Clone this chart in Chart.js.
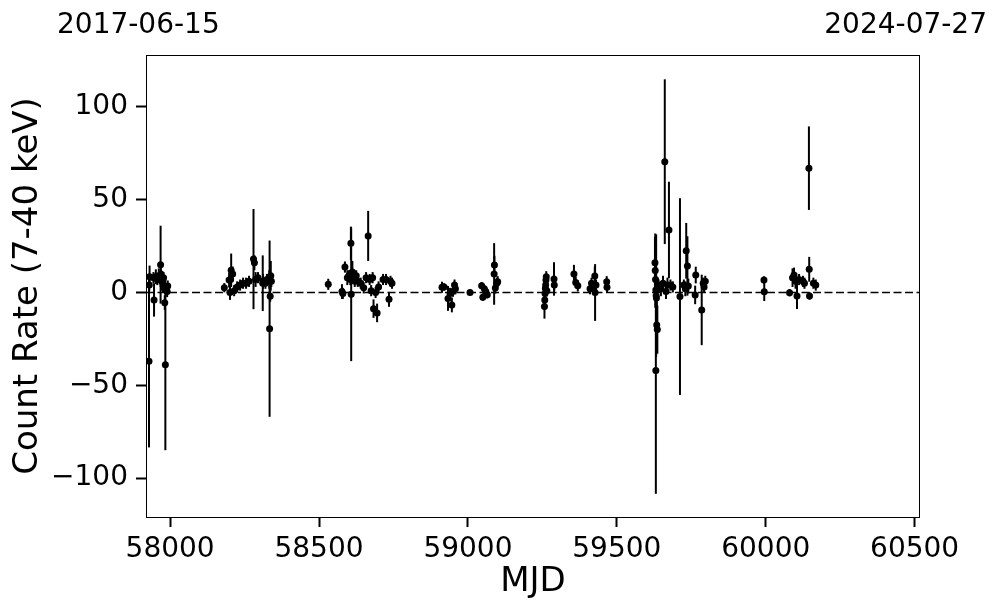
<!DOCTYPE html>
<html>
<head>
<meta charset="utf-8">
<script src="https://cdn.jsdelivr.net/npm/chart.js@4"></script>
<style>
  html, body { margin: 0; padding: 0; background: #fff; }
  #wrap { width: 997px; height: 613px; }
</style>
</head>
<body>
<div id="wrap"><canvas id="lc"></canvas></div>
<script>
// light curve values
const mjd = [
  57929, 57930, 57931, 57946, 57944, 57952, 57957, 57962, 57968, 57969, 57972, 57976, 57982, 57984, 57986, 57990, 57978, 57992,
  58182, 58198, 58205, 58210, 58203, 58201, 58215, 58225, 58235, 58245, 58255, 58265, 58280, 58283, 58287, 58295, 58311, 58312, 58320, 58334, 58336, 58333, 58338, 58340, 58325,
  58531,
  58577, 58580, 58587, 58595, 58600, 58605, 58607, 58608, 58612, 58615, 58620, 58625, 58630, 58640, 58650, 58658, 58665, 58670, 58675, 58680, 58683, 58690, 58695, 58700, 58715, 58725, 58735, 58740, 58745,
  58913, 58920, 58933, 58940, 58946, 58950, 58955, 58958, 59007, 59046, 59050, 59055, 59065, 59060, 59088, 59089, 59092, 59100, 59097,
  59257, 59258, 59259, 59260, 59261, 59262, 59263, 59265, 59289, 59290, 59356, 59362, 59369, 59410, 59415, 59420, 59426, 59427, 59430, 59466, 59467,
  59628, 59629, 59630, 59631, 59632, 59633, 59634, 59636, 59631, 59640, 59648, 59655, 59661, 59665, 59670, 59675, 59680, 59688, 59712, 59725, 59730, 59733, 59737, 59740, 59765, 59763, 59785, 59790, 59793, 59797,
  59994, 59995, 60080, 60090, 60095, 60100, 60105, 60112, 60125, 60130, 60145, 60146, 60147, 60160, 60168
];
const rate = [
  -37, 4, 8.5, -4, 8, 8.5, 7, 9, 15, 10, 6, 4, -5.5, -39, 2, 0.5, 8, 3.5,
  2.6, 6.7, 12, 10, 7, 0, 1, 3, 4, 5, 5, 6, 18, 16, 7, 8, 5, 6, 5, -19.5, -2, 7, 9, 6, 7,
  4.4,
  0.5, -0.5, 13.7, 8, 9, 7, 26.5, -1, 11, 8, 6, 9, 6, 5, 2.5, 8, 30.5, 7, 1, 8, -8.7, 0, -11, 3, 7, 7, -3.7, 6, 5,
  2.8, 3, -3.2, -0.5, -6.7, 0.7, 4, 2, 0, 3.7, -2.5, 2, -1.2, 0.5, 10, 14.8, 2.4, 5.8, 5,
  -7.6, -4, -0.5, 2.2, 4, 6.7, 8.5, 1, 7.3, 4, 10, 5.4, 3.6, 2, 5, 3, 8.9, 0, 4, 5.8, 2.8,
  16, 11.8, 7, 1.3, -1.7, -3, -17.5, -20, -42, 4, 2, 5, 70.5, 0.5, 4, 33.7, 4, 3, -2.2, 4, 2, 22.5, 14.3, 3.5, 9.4, -1.3, -9.4, 5, 3, 6,
  6.7, 0.4, -0.1, 8, 9.4, 6, -1.9, 7, 6, 5, 67, 12.5, -1.9, 5, 4
];
const rateErr = [
  46.5, 3, 6, 9, 3, 4, 3, 4, 21, 5, 5, 4, 4, 46, 3, 3, 3, 3,
  2.5, 4, 9, 4, 4, 4, 3, 3, 3, 3, 3, 3, 27, 4, 4, 3, 15, 4, 3, 47.5, 3, 5, 8, 3, 3,
  3,
  4, 3, 3, 4, 3, 3, 9, 36, 6, 3, 3, 3, 3, 3, 3, 3, 13.5, 3, 3, 3, 5, 3, 5, 3, 3, 3, 4, 3, 3,
  3, 2, 6.7, 3, 4, 3, 3, 3, 1.5, 2, 2, 2, 2, 2, 16.6, 5, 3, 3, 3,
  6.5, 4, 3, 3, 3, 3, 3, 3, 9, 3, 4.9, 3, 3, 3, 3, 3, 5, 15.3, 3, 3, 3,
  14, 20, 5, 4, 33, 5, 15, 13, 66.5, 3, 4, 4, 44.4, 4, 4, 26, 3, 3, 53, 3, 4, 15, 16, 4, 4.5, 5, 19, 3, 3, 3,
  2, 5, 2, 5, 4, 4, 7, 3, 3, 3, 22.5, 6.7, 2, 3, 3
];

const xRange = [57919, 60518];
const yRange = [-121, 128];
const xTicks = [58000, 58500, 59000, 59500, 60000, 60500];
const yTicks = [-100, -50, 0, 50, 100];
const dateLabels = ['2017-06-15', '2024-07-27'];

const points = mjd.map((m, i) => ({ x: m, y: rate[i], e: rateErr[i] }));

// vertical error bars, drawn with the chart's own scales
const errorBars = {
  id: 'errorBars',
  beforeDatasetsDraw(chart) {
    const { ctx, scales: { x, y } } = chart;
    ctx.save();
    ctx.beginPath();
    ctx.rect(chart.chartArea.left, chart.chartArea.top, chart.chartArea.width, chart.chartArea.height);
    ctx.clip();
    ctx.strokeStyle = '#000';
    ctx.lineWidth = 2;
    points.forEach(p => {
      const px = x.getPixelForValue(p.x);
      ctx.beginPath();
      ctx.moveTo(px, y.getPixelForValue(p.y - p.e));
      ctx.lineTo(px, y.getPixelForValue(p.y + p.e));
      ctx.stroke();
    });
    ctx.restore();
  }
};

// box round the plot and the two date labels on top
const frame = {
  id: 'frame',
  afterDraw(chart) {
    const { ctx, chartArea: a } = chart;
    ctx.save();
    ctx.strokeStyle = '#000';
    ctx.lineWidth = 1;
    ctx.strokeRect(a.left + 0.5, a.top + 0.5, a.width - 1, a.height);
    ctx.fillStyle = '#000';
    ctx.font = '28px "DejaVu Sans"';
    ctx.textBaseline = 'alphabetic';
    ctx.textAlign = 'left';
    ctx.fillText(dateLabels[0], 57, 33);
    ctx.textAlign = 'right';
    ctx.fillText(dateLabels[1], 987, 33);
    ctx.restore();
  }
};

const fmt = v => (v < 0 ? '\u2212' + Math.abs(v) : String(v));

new Chart(document.getElementById('lc'), {
  type: 'scatter',
  data: {
    datasets: [
      {
        data: points,
        backgroundColor: '#000',
        borderColor: '#000',
        pointRadius: 3.5,
        pointHoverRadius: 3.5,
        borderWidth: 0,
        order: 1
      },
      {
        type: 'line',
        data: [{ x: xRange[0], y: 0 }, { x: xRange[1], y: 0 }],
        borderColor: '#000',
        borderWidth: 1.5,
        borderDash: [8, 3.5],
        pointRadius: 0,
        order: 2
      }
    ]
  },
  options: {
    responsive: true,
    maintainAspectRatio: false,
    animation: false,
    events: [],
    layout: { padding: { top: 55, right: 77, left: 0, bottom: 0 } },
    plugins: { legend: { display: false }, tooltip: { enabled: false } },
    scales: {
      x: {
        type: 'linear',
        min: xRange[0],
        max: xRange[1],
        afterBuildTicks: s => { s.ticks = xTicks.map(v => ({ value: v })); },
        afterFit: s => { s.height = 96; },
        grid: { drawOnChartArea: false, tickLength: 10, tickWidth: 2, tickColor: '#000' },
        border: { display: false },
        ticks: {
          color: '#000',
          padding: 6,
          maxRotation: 0,
          font: { family: 'DejaVu Sans', size: 28 },
          callback: v => String(v)
        },
        title: {
          display: true,
          text: 'MJD',
          color: '#000',
          font: { family: 'DejaVu Sans', size: 34 },
          padding: { top: 0, bottom: 10 }
        }
      },
      y: {
        min: yRange[0],
        max: yRange[1],
        afterBuildTicks: s => { s.ticks = yTicks.map(v => ({ value: v })); },
        afterFit: s => { s.width = 146; },
        grid: { drawOnChartArea: false, tickLength: 10, tickWidth: 2, tickColor: '#000' },
        border: { display: false },
        ticks: {
          color: '#000',
          padding: 8,
          font: { family: 'DejaVu Sans', size: 28 },
          callback: v => fmt(v)
        },
        title: {
          display: true,
          text: 'Count Rate (7-40 keV)',
          color: '#000',
          font: { family: 'DejaVu Sans', size: 34 },
          padding: { top: 8, bottom: 0 }
        }
      }
    }
  },
  plugins: [errorBars, frame]
});
</script>
</body>
</html>
